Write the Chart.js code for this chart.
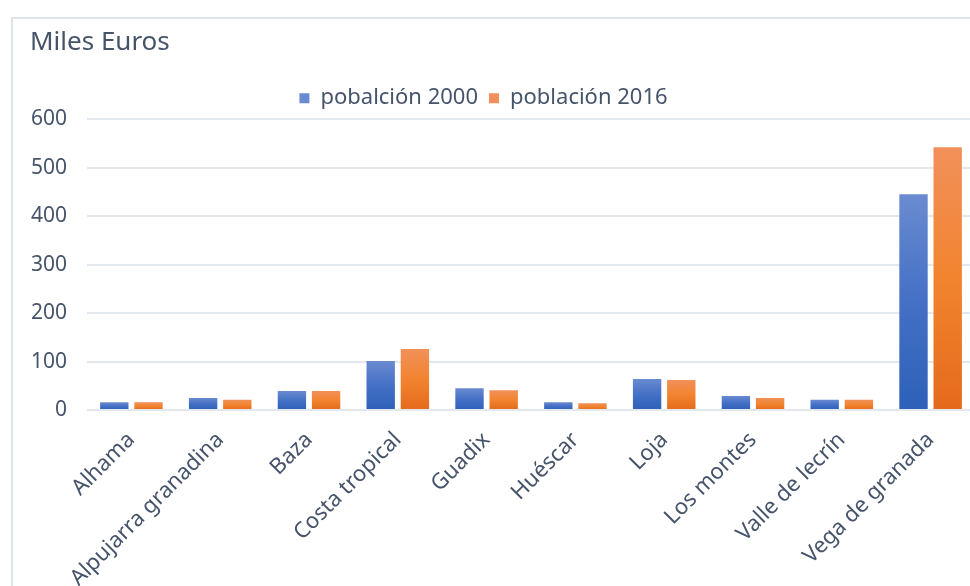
<!DOCTYPE html>
<html>
<head>
<meta charset="utf-8">
<script src="https://cdn.jsdelivr.net/npm/chart.js@4"></script>
<style>
  html, body { margin: 0; padding: 0; background: #fff; overflow: hidden; width: 970px; height: 586px; }
  #frame { position: absolute; left: 11px; top: 17px; border-left: 2px solid #dfe4eb; border-top: 2px solid #dfe4eb; }
  canvas { display: block; }
</style>
</head>
<body>
<div id="frame"><canvas id="myChart" width="970" height="580"></canvas></div>
<script>
// comarcas de Granada
const comarcas = ['Alhama', 'Alpujarra granadina', 'Baza', 'Costa tropical', 'Guadix',
                  'Huéscar', 'Loja', 'Los montes', 'Valle de lecrín', 'Vega de granada'];
const pob2000 = [16, 25, 39, 101, 45, 16, 64, 29, 21, 445];
const pob2016 = [16, 21, 39, 126, 41, 14, 62, 25, 21, 542];
const seriesNames = ['pobalción 2000', 'población 2016'];
const yTicks = [0, 100, 200, 300, 400, 500, 600];

const textColor = '#46546b';
const fontFam = '"Noto Sans", sans-serif';

// gradient from top of each bar to the base
function barGradient(ctx, top, mid, bottom) {
    const chart = ctx.chart;
    if (!chart.chartArea || ctx.type !== 'data') return mid;
    const y = chart.scales.y;
    const y0 = y.getPixelForValue(0);
    const y1 = y.getPixelForValue(ctx.parsed.y);
    const g = chart.ctx.createLinearGradient(0, y1, 0, y0);
    g.addColorStop(0, top);
    g.addColorStop(0.5, mid);
    g.addColorStop(1, bottom);
    return g;
}

// shift the legend a bit left, like the original
const legendShift = {
    id: 'legendShift',
    afterLayout(chart) {
        chart.legend.left -= 19;
        chart.legend.right -= 19;
    }
};

const data = {
    labels: comarcas,
    datasets: [
        {
            label: seriesNames[0],
            data: pob2000,
            backgroundColor: ctx => barGradient(ctx, '#6a8bd0', '#4470c6', '#2e60b9'),
            borderWidth: 0
        },
        {
            label: seriesNames[1],
            data: pob2016,
            backgroundColor: ctx => barGradient(ctx, '#f1905a', '#f2842f', '#e46a1b'),
            borderWidth: 0
        }
    ]
};

const config = {
    type: 'bar',
    data: data,
    plugins: [legendShift],
    options: {
        responsive: false,
        animation: false,
        layout: { padding: { left: 17, right: 8, top: 0, bottom: 0 } },
        datasets: {
            bar: { categoryPercentage: 0.77, barPercentage: 0.83 }
        },
        scales: {
            x: {
                grid: { display: false },
                border: { display: false },
                ticks: {
                    color: textColor,
                    font: { family: fontFam, size: 22 },
                    minRotation: 45,
                    maxRotation: 45,
                    padding: 9
                },
                afterFit: s => { s.height = 189; }
            },
            y: {
                min: yTicks[0],
                max: yTicks[yTicks.length - 1],
                afterBuildTicks: s => { s.ticks = yTicks.map(v => ({ value: v })); },
                grid: { color: '#e3e7ee', lineWidth: 2, drawTicks: false },
                border: { display: false },
                ticks: {
                    color: textColor,
                    font: { family: fontFam, size: 21 },
                    padding: 20
                },
                afterFit: s => { s.width = 57; }
            }
        },
        plugins: {
            title: {
                display: true,
                text: 'Miles Euros',
                align: 'start',
                color: textColor,
                font: { family: fontFam, size: 26, weight: 'normal' },
                padding: { top: 8, bottom: 18 }
            },
            legend: {
                position: 'top',
                labels: {
                    color: textColor,
                    font: { family: fontFam, size: 22 },
                    boxWidth: 10,
                    boxHeight: 10,
                    padding: 11
                }
            },
            tooltip: { enabled: false }
        }
    }
};

let myChart = new Chart(document.getElementById('myChart'), config);
</script>
</body>
</html>
